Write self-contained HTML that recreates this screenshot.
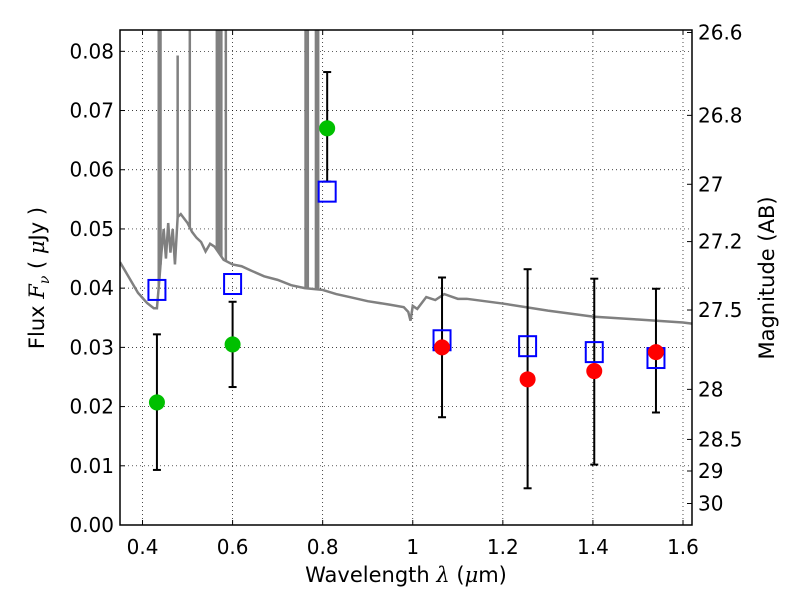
<!DOCTYPE html>
<html><head><meta charset="utf-8"><style>
body{margin:0;background:#fff;}
svg{display:block;font-family:"DejaVu Sans","Liberation Sans",sans-serif;}
</style></head><body>
<svg id="chart" width="800" height="600"></svg>
<script>
const xTicks=[0.4,0.6,0.8,1.0,1.2,1.4,1.6];
const xTickLabels=["0.4","0.6","0.8","1","1.2","1.4","1.6"];
const yTicks=[0,0.01,0.02,0.03,0.04,0.05,0.06,0.07,0.08];
const yTickLabels=["0.00","0.01","0.02","0.03","0.04","0.05","0.06","0.07","0.08"];
const magTicks=[26.6,26.8,27,27.2,27.5,28,28.5,29,30];
const magTickLabels=["26.6","26.8","27","27.2","27.5","28","28.5","29","30"];
const specWl=[0.35,0.37,0.39,0.41,0.425,0.432,0.438,0.442,0.447,0.452,0.457,0.462,0.467,0.472,0.478,0.485,0.49,0.5,0.51,0.52,0.53,0.54,0.55,0.56,0.58,0.6,0.62,0.64,0.67,0.7,0.73,0.76,0.8,0.83,0.86,0.9,0.95,0.98,0.99,0.995,1.0,1.01,1.03,1.05,1.07,1.1,1.12,1.2,1.3,1.4,1.5,1.6,1.62];
const specFlux=[0.0444,0.0418,0.0392,0.0375,0.0366,0.0366,0.042,0.046,0.05,0.045,0.051,0.046,0.05,0.044,0.052,0.0525,0.052,0.051,0.0495,0.0485,0.0478,0.0462,0.0475,0.047,0.0448,0.044,0.0437,0.043,0.042,0.0414,0.0405,0.040,0.0397,0.039,0.0385,0.0378,0.0372,0.0368,0.036,0.0345,0.037,0.0365,0.0385,0.038,0.039,0.0382,0.0382,0.0374,0.0362,0.0352,0.0347,0.0342,0.034];
const lineWl=[0.436,0.44,0.478,0.505,0.565,0.57,0.575,0.585,0.762,0.767,0.785,0.79];
const linePeak=[0.09,0.09,0.0793,0.09,0.09,0.09,0.09,0.09,0.09,0.09,0.09,0.09];
const optWl=[0.432,0.6,0.81];
const optFlux=[0.0207,0.0305,0.067];
const optLo=[0.0093,0.0233,0.058];
const optHi=[0.0322,0.0377,0.0765];
const nirWl=[1.065,1.255,1.403,1.54];
const nirFlux=[0.030,0.0246,0.026,0.0292];
const nirLo=[0.0182,0.0062,0.0102,0.019];
const nirHi=[0.0418,0.0432,0.0416,0.0399];
const modelWl=[0.432,0.6,0.81,1.065,1.255,1.403,1.54];
const modelFlux=[0.0397,0.0407,0.0563,0.0312,0.0302,0.0292,0.0282];

const L=120,R=692,T=30,B=525;
const x0=0.35,x1=1.62,y0=0,y1=0.0836;
const X=v=>L+(v-x0)/(x1-x0)*(R-L);
const Y=v=>B-(v-y0)/(y1-y0)*(B-T);
const magToFlux=m=>Math.pow(10,(23.9-m)/2.5);
const svg=document.getElementById('chart');
const NS='http://www.w3.org/2000/svg';
function mk(tag,attrs,parent){const e=document.createElementNS(NS,tag);for(const k in attrs)e.setAttribute(k,attrs[k]);(parent||svg).appendChild(e);return e;}
function interp(w){for(let i=1;i<specWl.length;i++){if(specWl[i]>=w){const t=(w-specWl[i-1])/(specWl[i]-specWl[i-1]);return specFlux[i-1]+t*(specFlux[i]-specFlux[i-1]);}}return specFlux[specFlux.length-1];}

const clip=mk('clipPath',{id:'pc'});mk('rect',{x:L,y:T,width:R-L,height:B-T},clip);
const grid=mk('g',{});


xTicks.forEach((t,i)=>{
  const x=X(t);
  mk('line',{x1:x,x2:x,y1:T,y2:B,stroke:'#000','stroke-width':0.7,'stroke-dasharray':'1,3'},grid);
  mk('line',{x1:x,x2:x,y1:B,y2:B-5,stroke:'#000'},grid);
  mk('line',{x1:x,x2:x,y1:T,y2:T+5,stroke:'#000'},grid);
  const tx=mk('text',{x:x,y:B+29,'font-size':20,'text-anchor':'middle'});
  
  
  tx.textContent=xTickLabels[i];
});
yTicks.forEach((t,i)=>{
  const y=Y(t);
  mk('line',{x1:L,x2:R,y1:y,y2:y,stroke:'#000','stroke-width':0.7,'stroke-dasharray':'1,3'},grid);
  mk('line',{x1:L,x2:L+5,y1:y,y2:y,stroke:'#000'},grid);
  const tx=mk('text',{x:L-6,y:y+7,'font-size':20,'text-anchor':'end'});
  
  
  tx.textContent=yTickLabels[i];
});
magTicks.forEach((m,i)=>{
  const y=Y(magToFlux(m));
  mk('line',{x1:R,x2:R-5,y1:y,y2:y,stroke:'#000'});
  const tx=mk('text',{x:R+6,y:y+7,'font-size':20});
  
  
  tx.textContent=magTickLabels[i];
});

const plot=mk('g',{'clip-path':'url(#pc)'});
const sp=mk('polyline',{points:specWl.map((w,i)=>X(w)+','+Y(specFlux[i])).join(' '),fill:'none',stroke:'#808080','stroke-width':2.5},plot);


lineWl.forEach((w,i)=>{
  const l=mk('line',{x1:X(w),x2:X(w),y1:Y(interp(w)),y2:Y(linePeak[i]),stroke:'#808080','stroke-width':2.5},plot);
  
  
});
function err(w,lo,hi,name){
  const g=mk('g',{stroke:'#000','stroke-width':2});
  
  
  mk('line',{x1:X(w),x2:X(w),y1:Y(lo),y2:Y(hi)},g);
  mk('line',{x1:X(w)-4,x2:X(w)+4,y1:Y(lo),y2:Y(lo)},g);
  mk('line',{x1:X(w)-4,x2:X(w)+4,y1:Y(hi),y2:Y(hi)},g);
}
optWl.forEach((w,i)=>err(w,optLo[i],optHi[i],'optical-errorbar'));
nirWl.forEach((w,i)=>err(w,nirLo[i],nirHi[i],'nir-errorbar'));
modelWl.forEach((w,i)=>{
  const r=mk('rect',{x:X(w)-8.5,y:Y(modelFlux[i])-10,width:17,height:20,fill:'none',stroke:'#0000ff','stroke-width':2});
  
  
});
optWl.forEach((w,i)=>{
  const c=mk('circle',{cx:X(w),cy:Y(optFlux[i]),r:8,fill:'#00c000'});
  
  
});
nirWl.forEach((w,i)=>{
  const c=mk('circle',{cx:X(w),cy:Y(nirFlux[i]),r:8,fill:'#ff0000'});
  
  
});
const fr=mk('rect',{x:L,y:T,width:R-L,height:B-T,fill:'none',stroke:'#000','stroke-width':1.5});


const xl=mk('text',{x:406,y:582,'font-size':21,'text-anchor':'middle'});


xl.innerHTML='Wavelength  <tspan font-family="DejaVu Serif" font-style="italic">λ</tspan> (<tspan font-family="DejaVu Serif" font-style="italic">μ</tspan>m)';
const yl=mk('text',{x:44,y:278,'font-size':21,'text-anchor':'middle',transform:'rotate(-90 44 278)'});


yl.innerHTML='Flux  <tspan font-family="DejaVu Serif" font-style="italic">F</tspan><tspan font-family="DejaVu Serif" font-style="italic" font-size="14" dy="5">ν</tspan><tspan dy="-5">  (  </tspan><tspan font-family="DejaVu Serif" font-style="italic">μ</tspan>Jy )';
const ml=mk('text',{x:774,y:278,'font-size':21,'text-anchor':'middle',transform:'rotate(-90 774 278)'});


ml.textContent='Magnitude (AB)';
</script>
</body></html>
